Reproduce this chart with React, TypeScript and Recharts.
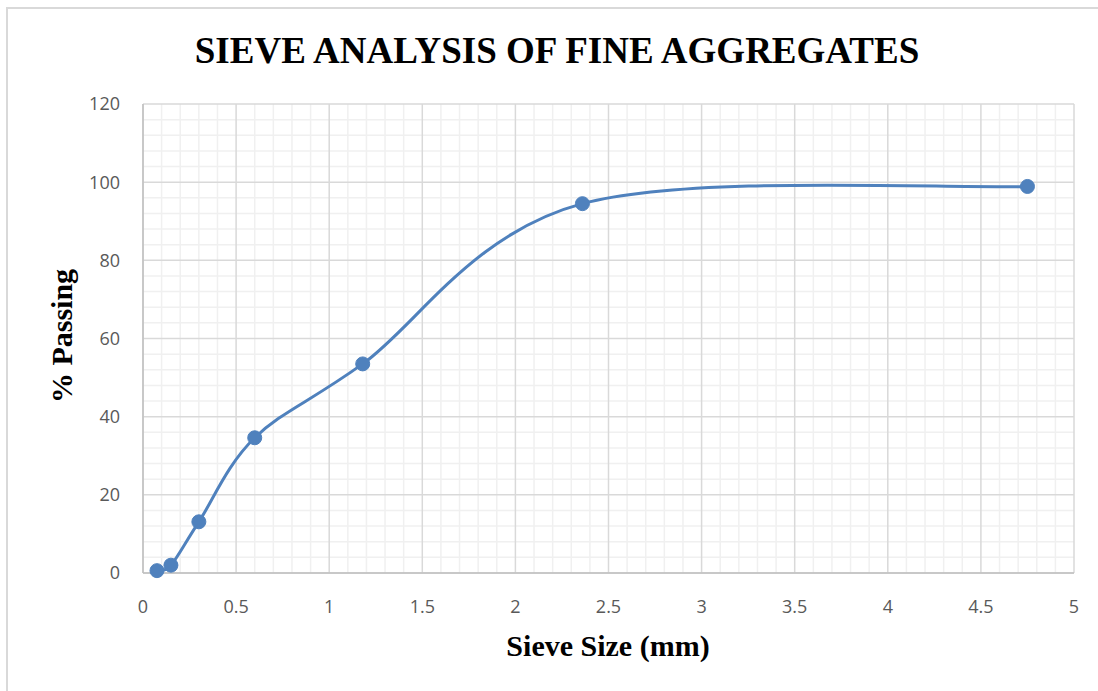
import React from 'react'
import { LineChart, Line, XAxis, YAxis, ReferenceLine } from 'recharts'

// sieve sizes (mm) and cumulative % passing
const sieveSizes = [0.075, 0.15, 0.3, 0.6, 1.18, 2.36, 4.75]
const percentPassing = [0.6, 2.0, 13.1, 34.6, 53.5, 94.5, 98.9]

const xTicks = [0, 0.5, 1, 1.5, 2, 2.5, 3, 3.5, 4, 4.5, 5]
const yTicks = [0, 20, 40, 60, 80, 100, 120]

// minor grid: 5 divisions between each major line
const minorX: number[] = []
for (let i = 1; i < 50; i++) if (i % 5 !== 0) minorX.push(+(i * 0.1).toFixed(1))
const minorY: number[] = []
for (let i = 1; i < 30; i++) if (i % 5 !== 0) minorY.push(i * 4)

const chartData = sieveSizes.map((size, i) => ({ size, passing: percentPassing[i] }))

// Excel-style smoothed line (Catmull-Rom converted to cubic beziers)
const excelSmooth = (context: any) => {
  let pts: number[][] = []
  return {
    areaStart() {},
    areaEnd() {},
    lineStart() {
      pts = []
    },
    point(x: number, y: number) {
      pts.push([+x, +y])
    },
    lineEnd() {
      const n = pts.length
      if (!n) return
      context.moveTo(pts[0][0], pts[0][1])
      for (let i = 0; i < n - 1; i++) {
        const p0 = pts[Math.max(i - 1, 0)]
        const p1 = pts[i]
        const p2 = pts[i + 1]
        const p3 = pts[Math.min(i + 2, n - 1)]
        context.bezierCurveTo(
          p1[0] + (p2[0] - p0[0]) / 6,
          p1[1] + (p2[1] - p0[1]) / 6,
          p2[0] - (p3[0] - p1[0]) / 6,
          p2[1] - (p3[1] - p1[1]) / 6,
          p2[0],
          p2[1]
        )
      }
    },
  }
}

const tickStyle = { fill: '#595959', fontSize: 18, fontFamily: 'Open Sans, Liberation Sans, sans-serif' }
const serif = '"Liberation Serif", "Times New Roman", serif'
const blue = '#4f81bd'

const App: React.FC = () => {
  return (
    <div style={{ position: 'absolute', left: 0, top: 0, width: 1098, height: 691, overflow: 'hidden', background: '#fff' }}>
      <div
        style={{
          position: 'absolute',
          left: 6,
          top: 7,
          width: 1200,
          height: 800,
          border: '2px solid #d9d9d9',
        }}
      />
      <div style={{ position: 'absolute', left: 0, top: 0 }}>
        <LineChart width={1098} height={691} data={chartData} margin={{ top: 104, right: 24, left: 83, bottom: 88 }}>
          {minorX.map(v => (
            <ReferenceLine key={'mx' + v} x={v} stroke="#f0f0f0" strokeWidth={1.5} />
          ))}
          {minorY.map(v => (
            <ReferenceLine key={'my' + v} y={v} stroke="#f0f0f0" strokeWidth={1.5} />
          ))}
          {xTicks.map(v => (
            <ReferenceLine key={'x' + v} x={v} stroke="#d9d9d9" strokeWidth={1.5} />
          ))}
          {yTicks.map(v => (
            <ReferenceLine key={'y' + v} y={v} stroke="#d9d9d9" strokeWidth={1.5} />
          ))}
          <XAxis
            dataKey="size"
            type="number"
            domain={[0, 5]}
            ticks={xTicks}
            interval={0}
            height={30}
            tickLine={false}
            tickSize={0}
            tickMargin={27}
            axisLine={{ stroke: '#bfbfbf', strokeWidth: 1.5 }}
            tick={tickStyle}
          />
          <YAxis
            type="number"
            domain={[0, 120]}
            ticks={yTicks}
            interval={0}
            width={60}
            tickLine={false}
            tickSize={0}
            tickMargin={23}
            axisLine={{ stroke: '#bfbfbf', strokeWidth: 1.5 }}
            tick={tickStyle}
          />
          <Line
            dataKey="passing"
            type={excelSmooth as any}
            stroke={blue}
            strokeWidth={3}
            dot={{ r: 7, fill: blue, stroke: blue, strokeWidth: 1 }}
            activeDot={false}
            isAnimationActive={false}
          />
        </LineChart>
      </div>
      <svg width={1098} height={691} style={{ position: 'absolute', left: 0, top: 0, pointerEvents: 'none' }}>
        <text x={557} y={63} textAnchor="middle" fontFamily={serif} fontWeight="bold" fontSize={37} fill="#000">
          SIEVE ANALYSIS OF FINE AGGREGATES
        </text>
        <text x={608} y={656} textAnchor="middle" fontFamily={serif} fontWeight="bold" fontSize={30} fill="#000">
          Sieve Size (mm)
        </text>
        <text
          x={0}
          y={0}
          transform="translate(72 336) rotate(-90)"
          textAnchor="middle"
          fontFamily={serif}
          fontWeight="bold"
          fontSize={30}
          fill="#000"
        >
          % Passing
        </text>
      </svg>
    </div>
  )
}

export default App
